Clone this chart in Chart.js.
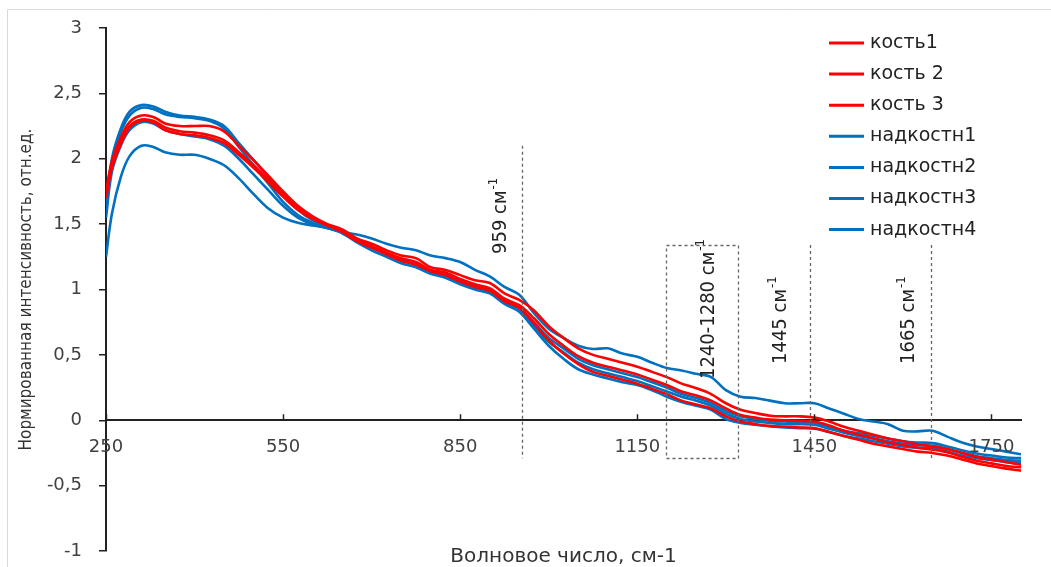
<!DOCTYPE html>
<html><head><meta charset="utf-8">
<script src="https://cdn.jsdelivr.net/npm/chart.js@4.4.1/dist/chart.umd.min.js"></script>
<style>html,body{margin:0;padding:0;background:#fff;} canvas{display:block;}</style>
</head><body>
<canvas id="c" width="1051" height="567"></canvas>
<script>
const xValues = [250, 260, 275, 290, 310, 330, 350, 375, 400, 425, 450, 475, 500, 525, 550, 575, 600, 625, 650, 675, 700, 725, 750, 775, 800, 825, 850, 875, 900, 925, 950, 975, 1000, 1025, 1050, 1075, 1100, 1125, 1150, 1175, 1200, 1225, 1250, 1275, 1300, 1325, 1350, 1375, 1400, 1425, 1450, 1475, 1500, 1525, 1550, 1575, 1600, 1625, 1650, 1675, 1700, 1725, 1750, 1775, 1800];

const kost1 = [1.75, 1.98, 2.16, 2.28, 2.33, 2.32, 2.27, 2.25, 2.25, 2.25, 2.21, 2.10, 1.99, 1.87, 1.75, 1.64, 1.56, 1.50, 1.46, 1.39, 1.35, 1.30, 1.26, 1.24, 1.17, 1.15, 1.11, 1.07, 1.05, 0.97, 0.92, 0.84, 0.72, 0.63, 0.55, 0.50, 0.47, 0.44, 0.41, 0.37, 0.33, 0.28, 0.245, 0.20, 0.13, 0.08, 0.055, 0.035, 0.03, 0.03, 0.02, -0.01, -0.05, -0.08, -0.11, -0.14, -0.16, -0.185, -0.20, -0.22, -0.25, -0.28, -0.30, -0.32, -0.34];
const kost2 = [1.72, 1.95, 2.13, 2.25, 2.30, 2.29, 2.24, 2.21, 2.20, 2.18, 2.14, 2.05, 1.95, 1.84, 1.73, 1.63, 1.55, 1.49, 1.45, 1.38, 1.33, 1.28, 1.24, 1.21, 1.15, 1.13, 1.08, 1.04, 1.01, 0.93, 0.88, 0.78, 0.66, 0.57, 0.49, 0.44, 0.41, 0.38, 0.35, 0.31, 0.27, 0.22, 0.19, 0.15, 0.09, 0.04, 0.02, 0.005, 0.0, -0.005, -0.01, -0.04, -0.08, -0.11, -0.14, -0.17, -0.19, -0.21, -0.225, -0.245, -0.28, -0.31, -0.33, -0.35, -0.36];
const kost3 = [1.70, 1.93, 2.11, 2.24, 2.29, 2.28, 2.22, 2.19, 2.18, 2.16, 2.12, 2.03, 1.93, 1.82, 1.71, 1.61, 1.54, 1.49, 1.44, 1.37, 1.32, 1.27, 1.22, 1.19, 1.14, 1.11, 1.06, 1.02, 0.99, 0.91, 0.86, 0.74, 0.61, 0.51, 0.43, 0.37, 0.34, 0.31, 0.28, 0.24, 0.20, 0.15, 0.12, 0.09, 0.03, -0.01, -0.03, -0.045, -0.05, -0.055, -0.06, -0.09, -0.12, -0.15, -0.18, -0.20, -0.22, -0.24, -0.25, -0.27, -0.30, -0.33, -0.35, -0.37, -0.385];
const nadk1 = [1.65, 2.00, 2.23, 2.36, 2.41, 2.40, 2.36, 2.33, 2.32, 2.30, 2.25, 2.12, 1.99, 1.86, 1.72, 1.61, 1.53, 1.48, 1.45, 1.38, 1.33, 1.28, 1.23, 1.20, 1.14, 1.12, 1.07, 1.03, 1.00, 0.92, 0.86, 0.75, 0.63, 0.55, 0.47, 0.42, 0.39, 0.36, 0.33, 0.29, 0.25, 0.20, 0.17, 0.13, 0.07, 0.03, 0.01, -0.005, -0.01, -0.015, -0.02, -0.05, -0.08, -0.10, -0.12, -0.14, -0.16, -0.17, -0.175, -0.20, -0.23, -0.255, -0.27, -0.285, -0.29];
const nadk2 = [1.60, 1.96, 2.20, 2.33, 2.39, 2.38, 2.34, 2.32, 2.31, 2.29, 2.23, 2.09, 1.95, 1.81, 1.67, 1.57, 1.51, 1.47, 1.44, 1.37, 1.32, 1.27, 1.22, 1.19, 1.13, 1.10, 1.05, 1.01, 0.98, 0.90, 0.84, 0.72, 0.60, 0.52, 0.44, 0.39, 0.36, 0.33, 0.30, 0.26, 0.22, 0.18, 0.15, 0.11, 0.05, 0.01, -0.01, -0.02, -0.03, -0.03, -0.035, -0.065, -0.095, -0.12, -0.14, -0.16, -0.18, -0.19, -0.195, -0.22, -0.25, -0.275, -0.29, -0.305, -0.31];
const nadk3 = [1.55, 1.90, 2.10, 2.22, 2.28, 2.27, 2.22, 2.19, 2.17, 2.15, 2.10, 2.00, 1.88, 1.76, 1.64, 1.55, 1.50, 1.47, 1.43, 1.36, 1.30, 1.25, 1.20, 1.17, 1.12, 1.09, 1.04, 1.00, 0.97, 0.89, 0.83, 0.70, 0.57, 0.47, 0.39, 0.35, 0.32, 0.29, 0.27, 0.23, 0.18, 0.14, 0.11, 0.08, 0.01, -0.02, -0.035, -0.045, -0.055, -0.06, -0.065, -0.09, -0.12, -0.14, -0.16, -0.18, -0.20, -0.21, -0.215, -0.24, -0.27, -0.29, -0.305, -0.32, -0.33];
const nadk4 = [1.25, 1.58, 1.86, 2.02, 2.10, 2.09, 2.05, 2.03, 2.03, 2.00, 1.95, 1.85, 1.73, 1.62, 1.55, 1.51, 1.49, 1.47, 1.44, 1.42, 1.39, 1.35, 1.32, 1.30, 1.26, 1.24, 1.21, 1.15, 1.10, 1.02, 0.96, 0.82, 0.70, 0.63, 0.57, 0.545, 0.55, 0.51, 0.485, 0.44, 0.40, 0.38, 0.355, 0.33, 0.23, 0.18, 0.17, 0.15, 0.13, 0.13, 0.13, 0.09, 0.05, 0.01, -0.01, -0.03, -0.08, -0.085, -0.08, -0.125, -0.17, -0.20, -0.22, -0.24, -0.26];

const seriesNames = ['кость1', 'кость 2', 'кость 3', 'надкостн1', 'надкостн2', 'надкостн3', 'надкостн4'];
const seriesValues = [kost1, kost2, kost3, nadk1, nadk2, nadk3, nadk4];
const seriesColors = ['#FF0000', '#FF0000', '#FF0000', '#0070C0', '#0070C0', '#0070C0', '#0070C0'];

const xTickValues = [250, 550, 850, 1150, 1450, 1750];
const yTickValues = [-1, -0.5, 0, 0.5, 1, 1.5, 2, 2.5, 3];

const markerPositions = [955, 1442, 1648];
const markerTops = [2.1, 1.34, 1.34];
const markerLabels = ['959 см', '1445 см', '1665 см'];
const markerBottom = -0.29;
const bandRange = [1199, 1320];
const bandTop = 1.34;
const bandLabel = '1240-1280 см';
const supText = '-1';

const xTitle = 'Волновое число, см-1';
const yTitle = 'Нормированная интенсивность, отн.ед.';

const narrowFont = "'Liberation Sans Narrow', 'DejaVu Sans Condensed', sans-serif";
const mainFont = "'DejaVu Sans', sans-serif";

const annoPlugin = {
  id: 'anno',
  beforeDraw(chart) {
    const {ctx} = chart;
    ctx.save();
    ctx.strokeStyle = '#d9d9d9';
    ctx.lineWidth = 1;
    ctx.beginPath();
    ctx.moveTo(7.5, 567);
    ctx.lineTo(7.5, 9.5);
    ctx.lineTo(1051, 9.5);
    ctx.stroke();
    ctx.restore();
  },
  afterDatasetsDraw(chart) {
    const {ctx, scales: {x, y}} = chart;
    ctx.save();
    ctx.strokeStyle = '#666';
    ctx.lineWidth = 1.3;
    ctx.setLineDash([3, 3]);
    markerPositions.forEach((v, i) => {
      const px = Math.round(x.getPixelForValue(v)) + 0.5;
      ctx.beginPath();
      ctx.moveTo(px, y.getPixelForValue(markerTops[i]));
      ctx.lineTo(px, y.getPixelForValue(markerBottom));
      ctx.stroke();
    });
    const bx1 = Math.round(x.getPixelForValue(bandRange[0])) + 0.5;
    const bx2 = Math.round(x.getPixelForValue(bandRange[1])) + 0.5;
    const by1 = Math.round(y.getPixelForValue(bandTop)) + 0.5;
    const by2 = Math.round(y.getPixelForValue(markerBottom)) + 0.5;
    ctx.strokeRect(bx1, by1, bx2 - bx1, by2 - by1);
    ctx.setLineDash([]);

    const drawLabel = (text, cx, by) => {
      ctx.save();
      ctx.translate(cx, by);
      ctx.rotate(-Math.PI / 2);
      ctx.fillStyle = '#222';
      ctx.textAlign = 'left';
      ctx.textBaseline = 'middle';
      ctx.font = '20px ' + narrowFont;
      ctx.fillText(text, 0, 3);
      const w = ctx.measureText(text).width;
      ctx.font = '13px ' + narrowFont;
      ctx.fillText(supText, w + 1, -5);
      ctx.restore();
    };
    const p = (v) => x.getPixelForValue(v);
    drawLabel(markerLabels[0], p(markerPositions[0]) - 24, 254);
    drawLabel(bandLabel, bx1 + 39, 379);
    drawLabel(markerLabels[1], p(markerPositions[1]) - 32, 364);
    drawLabel(markerLabels[2], p(markerPositions[2]) - 25, 364);
    ctx.restore();
  },
  afterDraw(chart) {
    const {ctx, chartArea, scales: {x, y}} = chart;
    ctx.save();
    // upward tick marks and labels on the x axis
    const axisY = y.getPixelForValue(0);
    ctx.strokeStyle = '#222';
    ctx.lineWidth = 1.5;
    ctx.fillStyle = '#404040';
    ctx.font = '18px ' + mainFont;
    ctx.textAlign = 'center';
    ctx.textBaseline = 'middle';
    xTickValues.forEach(v => {
      const px = Math.round(x.getPixelForValue(v)) + 0.5;
      ctx.beginPath();
      ctx.moveTo(px, axisY);
      ctx.lineTo(px, axisY - 6);
      ctx.stroke();
      ctx.fillText(String(v), x.getPixelForValue(v), axisY + 27);
    });
    // y tick labels
    ctx.textAlign = 'right';
    yTickValues.forEach(v => {
      ctx.fillText(String(v).replace('.', ','), chartArea.left - 24, y.getPixelForValue(v));
    });
    // x title
    ctx.fillStyle = '#333';
    ctx.font = '20px ' + mainFont;
    ctx.textAlign = 'center';
    ctx.fillText(xTitle, (chartArea.left + chartArea.right) / 2, 557);
    // legend
    const rowStart = 43, rowStep = 31.1;
    chart.data.datasets.forEach((ds, i) => {
      const yy = rowStart + i * rowStep;
      ctx.strokeStyle = ds.borderColor;
      ctx.lineWidth = 3;
      ctx.beginPath();
      ctx.moveTo(829, yy);
      ctx.lineTo(864, yy);
      ctx.stroke();
      ctx.fillStyle = '#222';
      ctx.font = '19px ' + mainFont;
      ctx.textAlign = 'left';
      ctx.textBaseline = 'middle';
      ctx.fillText(ds.label, 870, yy);
    });
    ctx.restore();
  }
};

const chart = new Chart(document.getElementById('c').getContext('2d'), {
  type: 'line',
  data: {
    datasets: seriesValues.map((arr, i) => ({
      label: seriesNames[i],
      data: xValues.map((xv, j) => ({x: xv, y: arr[j]})),
      borderColor: seriesColors[i],
      backgroundColor: seriesColors[i],
      borderWidth: 2.6,
      pointRadius: 0,
      tension: 0.35,
      fill: false
    }))
  },
  options: {
    responsive: false,
    animation: false,
    devicePixelRatio: 1,
    layout: {padding: {top: 28, right: 30, bottom: 16, left: 0}},
    plugins: {legend: {display: false}, tooltip: {enabled: false}},
    scales: {
      x: {
        type: 'linear',
        min: 250,
        max: 1800,
        position: {y: 0},
        afterBuildTicks: s => { s.ticks = xTickValues.map(v => ({value: v})); },
        grid: {display: true, drawOnChartArea: false, drawTicks: false},
        border: {display: true, color: '#222', width: 2},
        ticks: {display: false}
      },
      y: {
        type: 'linear',
        min: -1,
        max: 3,
        afterBuildTicks: s => { s.ticks = yTickValues.map(v => ({value: v})); },
        afterFit: s => { s.width = 106; },
        grid: {display: true, drawOnChartArea: false, drawTicks: true, tickLength: 7, color: '#222', lineWidth: 1.5},
        border: {display: true, color: '#222', width: 2},
        ticks: {display: false},
        title: {display: true, text: yTitle, color: '#333', font: {family: narrowFont, size: 17}, padding: {top: 16, bottom: 0}}
      }
    }
  },
  plugins: [annoPlugin]
});
</script>
</body></html>
